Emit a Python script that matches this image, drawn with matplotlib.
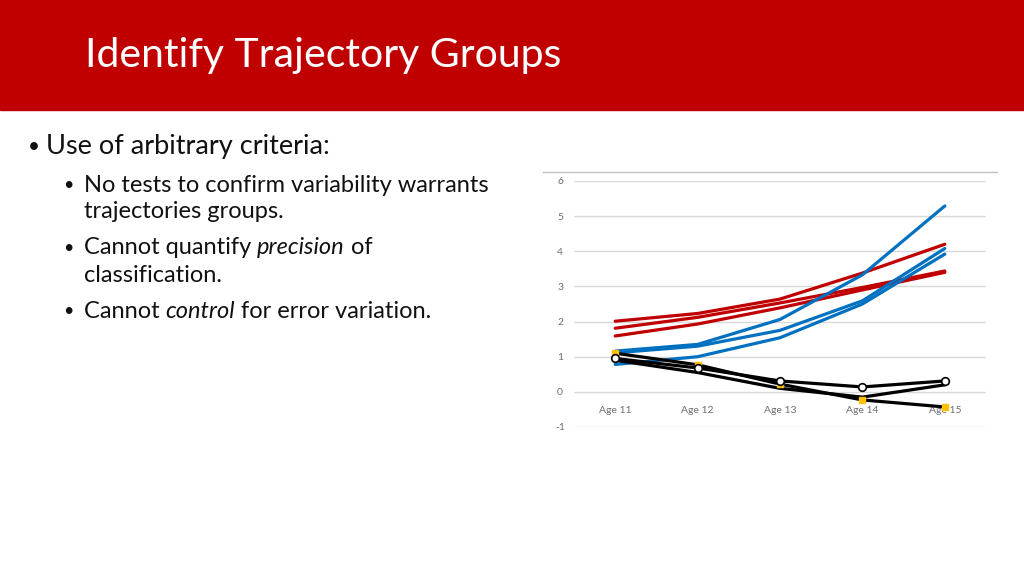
import matplotlib
matplotlib.use("Agg")
import matplotlib.pyplot as plt
from matplotlib.lines import Line2D
from matplotlib.patches import Rectangle

plt.rcParams['font.family'] = ['Lato', 'DejaVu Sans']

ages = ["Age 11", "Age 12", "Age 13", "Age 14", "Age 15"]

red_1 = [2.01, 2.23, 2.64, 3.38, 4.20]
red_2 = [1.81, 2.12, 2.53, 2.97, 3.44]
red_3 = [1.59, 1.93, 2.39, 2.90, 3.40]

blue_1 = [1.16, 1.35, 2.06, 3.33, 5.29]
blue_2 = [1.11, 1.30, 1.75, 2.59, 4.08]
blue_3 = [0.78, 1.00, 1.54, 2.50, 3.92]

black_circles = [0.95, 0.68, 0.31, 0.14, 0.31]
black_yellow = [1.10, 0.77, 0.22, -0.23, -0.43]
black_plain = [0.90, 0.55, 0.10, -0.15, 0.20]

y_ticks = [-1, 0, 1, 2, 3, 4, 5, 6]

RED = "#C00000"
BLUE = "#0070C0"

fig = plt.figure(figsize=(10.24, 5.76), dpi=100)

# title banner
fig.patches.append(Rectangle((0, 1 - 110/576), 1, 110/576, transform=fig.transFigure,
                             color=RED, zorder=0))
fig.text(85/1024, 1 - 55/576, "Identify Trajectory Groups", color="white",
         fontsize=29.5, va="center", ha="left")

# bullet text
renderer = fig.canvas.get_renderer()


def rich_line(x, y, parts, size):
    for s, style in parts:
        t = fig.text(x, y, s, fontsize=size, style=style, va="center", ha="left",
                     color="#111111")
        bb = t.get_window_extent(renderer)
        x += bb.width / 1024


fig.text(28/1024, 1 - 147/576, "\u2022", fontsize=15, va="center", color="#111111")
rich_line(46/1024, 1 - 147/576, [("Use of arbitrary criteria:", "normal")], 19.5)

sub = [
    (185, True, [("No tests to confirm variability warrants", "normal")]),
    (212, False, [("trajectories groups.", "normal")]),
    (248, True, [("Cannot quantify ", "normal"), ("precision", "italic"), (" of", "normal")]),
    (275, False, [("classification.", "normal")]),
    (311, True, [("Cannot ", "normal"), ("control", "italic"), (" for error variation.", "normal")]),
]
for ypix, bullet, parts in sub:
    if bullet:
        fig.text(63/1024, 1 - ypix/576, "\u2022", fontsize=13, va="center", color="#111111")
    rich_line(84/1024, 1 - ypix/576, parts, 17)

# chart border line on top
fig.lines.append(Line2D([543/1024, 997/1024], [1 - 172/576, 1 - 172/576],
                        transform=fig.transFigure, color="#BFBFBF", lw=1))

ax = fig.add_axes([574/1024, 1 - 427/576, 412/1024, 246/576])
x = range(len(ages))

for vals in [red_1, red_2, red_3]:
    ax.plot(x, vals, color=RED, lw=2.3, solid_capstyle="round", zorder=3)
for vals in [blue_1, blue_2, blue_3]:
    ax.plot(x, vals, color=BLUE, lw=2.3, solid_capstyle="round", zorder=3)

ax.plot(x, black_plain, color="black", lw=2.3, zorder=4)
ax.plot(x, black_yellow, color="black", lw=2.3, marker="s", markersize=4.5,
        markerfacecolor="#FFC000", markeredgecolor="#FFC000", zorder=4)
ax.plot(x, black_circles, color="black", lw=2.3, marker="o", markersize=5.5,
        markerfacecolor="white", markeredgecolor="black", markeredgewidth=1.2, zorder=5)

ax.set_xlim(-0.5, 4.5)
ax.set_ylim(-1, 6)
ax.set_yticks(y_ticks)
ax.set_yticklabels([str(v) for v in y_ticks])
ax.yaxis.grid(True, color="#D9D9D9", lw=1)
ax.set_axisbelow(True)
for s in ["top", "right", "left"]:
    ax.spines[s].set_visible(False)
ax.spines["bottom"].set_position(("data", 0))
ax.spines["bottom"].set_visible(False)
ax.set_xticks(list(x))
ax.set_xticklabels(ages)
ax.tick_params(axis="x", length=0, pad=10, labelsize=7.5, labelcolor="#6F6F6F")
ax.tick_params(axis="y", length=0, pad=10, labelsize=7.5, labelcolor="#6F6F6F")
for lab in ax.get_yticklabels():
    lab.set_horizontalalignment("center")
ax.patch.set_alpha(0)

fig.savefig("out.png", dpi=100)
